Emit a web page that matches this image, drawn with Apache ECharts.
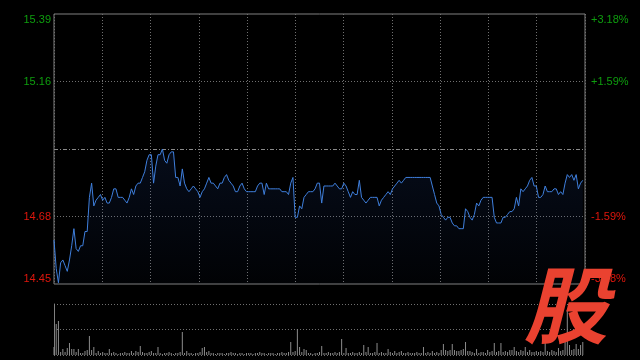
<!DOCTYPE html>
<html><head><meta charset="utf-8">
<script src="https://cdn.jsdelivr.net/npm/echarts@6/dist/echarts.min.js"></script>
<style>html,body{margin:0;padding:0;background:#000}#c{width:640px;height:360px}</style>
</head><body><div id="c"></div>
<script>
const prevClose = 14.92;
const pctTicks = [-3.18, -1.59, 0, 1.59, 3.18];
const prices = [
14.60,14.50,14.45,14.52,14.53,14.51,14.49,14.53,14.58,14.64,
14.57,14.56,14.58,14.58,14.63,14.63,14.75,14.80,14.72,14.74,
14.75,14.76,14.74,14.75,14.73,14.73,14.75,14.78,14.78,14.75,
14.75,14.75,14.74,14.73,14.75,14.78,14.76,14.79,14.80,14.80,
14.82,14.84,14.88,14.90,14.90,14.80,14.86,14.90,14.90,14.92,
14.88,14.87,14.90,14.91,14.91,14.82,14.82,14.79,14.85,14.80,
14.78,14.77,14.78,14.79,14.78,14.77,14.75,14.77,14.78,14.80,
14.82,14.80,14.80,14.79,14.78,14.80,14.80,14.82,14.83,14.81,
14.80,14.79,14.77,14.77,14.79,14.80,14.78,14.77,14.77,14.77,
14.77,14.77,14.79,14.80,14.80,14.76,14.80,14.78,14.78,14.78,
14.78,14.78,14.78,14.77,14.77,14.77,14.76,14.80,14.82,14.68,
14.68,14.72,14.71,14.75,14.76,14.77,14.77,14.77,14.78,14.80,
14.80,14.73,14.79,14.79,14.79,14.79,14.79,14.80,14.79,14.78,
14.78,14.80,14.79,14.77,14.75,14.77,14.76,14.76,14.81,14.75,
14.74,14.73,14.74,14.75,14.75,14.75,14.75,14.72,14.74,14.75,
14.76,14.77,14.76,14.78,14.79,14.80,14.81,14.80,14.81,14.82,
14.82,14.82,14.82,14.82,14.82,14.82,14.82,14.82,14.82,14.82,
14.82,14.79,14.76,14.73,14.72,14.69,14.68,14.67,14.68,14.68,
14.66,14.65,14.65,14.64,14.64,14.64,14.71,14.70,14.68,14.67,
14.69,14.73,14.72,14.74,14.75,14.75,14.75,14.75,14.75,14.68,
14.66,14.66,14.66,14.68,14.68,14.69,14.70,14.70,14.71,14.75,
14.72,14.78,14.77,14.78,14.79,14.81,14.82,14.79,14.79,14.75,
14.75,14.76,14.79,14.77,14.77,14.77,14.78,14.78,14.76,14.77,
14.76,14.80,14.83,14.82,14.83,14.81,14.83,14.78,14.80,14.81
];
const volumes = [
8,31,34,3,6,3,7,12,6,6,
3,6,2,2,4,5,19,5,8,2,
4,2,3,2,2,6,2,3,2,1,
2,2,3,2,2,4,2,4,3,9,
3,2,2,3,4,2,2,8,2,1,
2,2,3,2,1,2,2,3,23,2,
4,2,2,1,2,2,3,7,8,3,
4,2,2,1,2,2,2,1,2,2,
3,2,2,1,2,2,1,2,2,2,
1,2,2,3,2,2,1,2,2,2,
1,2,2,3,2,2,3,13,3,4,
26,8,3,6,5,2,2,1,2,2,
3,9,2,2,3,2,2,3,2,3,
16,2,7,2,2,3,2,2,3,2,
10,3,8,2,2,3,12,2,3,2,
2,6,3,2,4,2,3,4,2,2,
3,2,2,2,3,2,2,8,2,3,
2,4,2,3,2,5,11,5,4,5,
11,5,4,4,5,6,13,4,4,3,
2,6,2,3,3,2,5,3,4,12,
3,4,12,3,4,3,5,5,8,4,
3,5,4,8,3,5,3,3,4,3,
4,3,19,4,3,5,4,3,7,4,
5,17,45,10,5,6,11,6,10,13
];
const times = [];
for (let m = 570; m <= 690; m++) times.push(String(Math.floor(m/60)).padStart(2,'0') + ':' + String(m%60).padStart(2,'0'));
for (let m = 781; m <= 900; m++) times.push(String(Math.floor(m/60)).padStart(2,'0') + ':' + String(m%60).padStart(2,'0'));

const pct = prices.map(p => +((p / prevClose - 1) * 100).toFixed(4));
const GREEN = '#0e9e0e', RED = '#e0160c', GRID = '#707070', BORDER = '#808080';
const labelColor = v => v > 0 ? GREEN : RED;
const isZero = v => Math.abs(v) < 1e-6;

const chart = echarts.init(document.getElementById('c'), null, {renderer: 'canvas'});
chart.setOption({
  animation: false,
  backgroundColor: '#000',
  textStyle: {fontFamily: 'Liberation Sans, Arial, sans-serif'},
  grid: [
    {left: 54, top: 14, width: 531, height: 270, show: true, borderColor: BORDER, borderWidth: 1, backgroundColor: 'transparent'},
    {left: 54, top: 304, width: 531, height: 51, show: false}
  ],
  xAxis: [
    {gridIndex: 0, type: 'category', data: times, boundaryGap: false, show: false},
    {gridIndex: 0, type: 'value', min: 0, max: 11, interval: 1, axisLine: {show: false}, axisTick: {show: false}, axisLabel: {show: false},
     splitLine: {show: true, lineStyle: {color: GRID, type: [1, 2], width: 1}}},
    {gridIndex: 1, type: 'category', data: times, boundaryGap: false, axisLine: {show: false}, axisTick: {show: false}, axisLabel: {show: false}, splitLine: {show: false}}
  ],
  yAxis: [
    {gridIndex: 0, type: 'value', position: 'left', min: pctTicks[0], max: pctTicks[4], interval: pctTicks[4] - pctTicks[3],
     axisLine: {show: false}, axisTick: {show: false}, splitLine: {show: false},
     axisLabel: {fontSize: 11, margin: 3, color: labelColor, verticalAlignMinLabel: 'bottom', verticalAlignMaxLabel: 'top',
       formatter: v => isZero(v) ? '' : (prevClose * (1 + v / 100)).toFixed(2)}},
    {gridIndex: 0, type: 'value', position: 'right', min: pctTicks[0], max: pctTicks[4], interval: pctTicks[4] - pctTicks[3],
     axisLine: {show: false}, axisTick: {show: false}, splitLine: {show: false},
     axisLabel: {fontSize: 11, margin: 6, color: labelColor, verticalAlignMinLabel: 'bottom', verticalAlignMaxLabel: 'top',
       formatter: v => isZero(v) ? '' : (v > 0 ? '+' : '') + v.toFixed(2) + '%'}},
    {gridIndex: 1, type: 'value', min: 0, max: 51, interval: 25.5,
     axisLine: {show: true, lineStyle: {color: BORDER, width: 1}}, axisTick: {show: false}, axisLabel: {show: false},
     splitLine: {show: true, lineStyle: {color: GRID, type: [1, 2], width: 1}}}
  ],
  series: [
    {type: 'line', xAxisIndex: 0, yAxisIndex: 0, data: pct, showSymbol: false, symbol: 'none',
     lineStyle: {color: '#3f7fdc', width: 1}, z: 5,
     areaStyle: {origin: 'start', color: new echarts.graphic.LinearGradient(0, 0, 0, 1, [
       {offset: 0, color: 'rgba(40,80,170,0.22)'}, {offset: 1, color: 'rgba(40,80,170,0.04)'}])},
     markLine: {silent: true, symbol: 'none', label: {show: false}, animation: false,
       data: [
         {yAxis: pctTicks[1], lineStyle: {color: GRID, type: [1, 2], width: 1}},
         {yAxis: pctTicks[3], lineStyle: {color: GRID, type: [1, 2], width: 1}},
         {yAxis: pctTicks[2], lineStyle: {color: '#8a8a8a', type: [4, 2, 1, 2], width: 1}}
       ]}},
    {type: 'bar', xAxisIndex: 2, yAxisIndex: 2, data: volumes, barWidth: 1, itemStyle: {color: '#8c8c8c'}}
  ],
  graphic: [
    {type: 'text', z: 100, x: 574, y: 305, skewX: -0.25,
     style: {text: '股', x: 0, y: 0, align: 'center', verticalAlign: 'middle',
       font: 'bold 84px "Noto Sans CJK SC", sans-serif', fill: '#ea4230'}}
  ]
});
</script></body></html>
